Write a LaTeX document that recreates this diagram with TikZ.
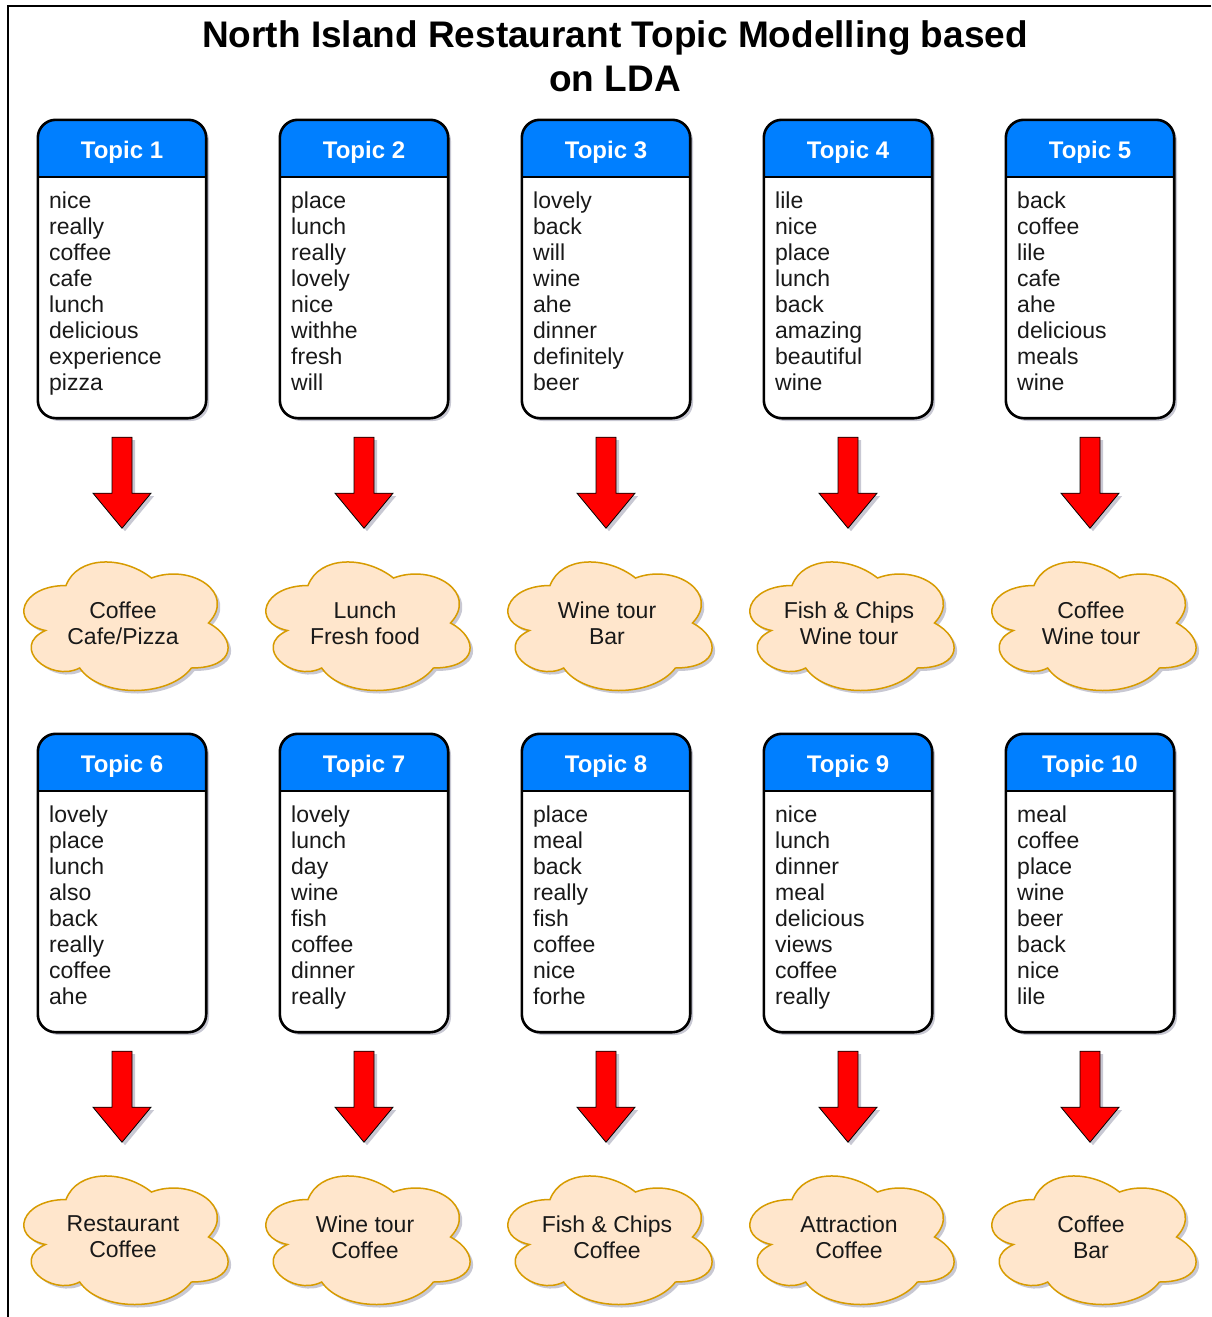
\documentclass[tikz,border=0pt]{standalone}
\usepackage{fontspec}
\setmainfont{Liberation Sans}
\usetikzlibrary{shadows}
\definecolor{hdrblue}{RGB}{0,127,255}
\definecolor{cloudfill}{RGB}{255,230,204}
\definecolor{cloudline}{RGB}{215,155,0}
\definecolor{shadowcol}{RGB}{100,100,130}
\tikzset{
  softshadow/.style={drop shadow={opacity=0.35, shadow xshift=3pt, shadow yshift=-3pt, fill=shadowcol}},
  tbox/.style={rectangle, rounded corners=18pt, minimum width=168pt, minimum height=298pt, fill=white, inner sep=0pt, softshadow},
  boxoutline/.style={draw=black, line width=2.6pt, rounded corners=18pt},
  hdrfill/.style={fill=hdrblue, rounded corners=18pt},
  hdrline/.style={draw=black, line width=2.6pt},
  hdrtext/.style={text=white, font=\fontsize{24}{28}\selectfont\bfseries, inner sep=0pt},
  word/.style={text=black!90, font=\fontsize{23}{26}\selectfont, inner sep=0pt},
  cloudsty/.style={fill=cloudfill, draw=cloudline, line width=1.5pt, softshadow},
  cloudtext/.style={text=black!90, font=\fontsize{23}{26}\selectfont, align=center, inner sep=0pt},
  redarrow/.style={fill=red, draw=black, line width=0.8pt, line join=miter, softshadow},
  titletext/.style={text=black, font=\fontsize{37}{44}\selectfont\bfseries, inner sep=0pt},
  framelines/.style={draw=black, line width=2pt}
}
\newcommand\mktopic[6]{%
  \node[tbox] (b#1) at (#2,#3+149) {};
  \begin{scope}
    \clip (#2-90,#3-6) rectangle (#2+90,#3+57);
    \path[hdrfill] (b#1.south west) rectangle (b#1.north east);
  \end{scope}
  \draw[hdrline] (b#1.west |- {(0,#3+57)}) -- (b#1.east |- {(0,#3+57)});
  \draw[boxoutline] (b#1.south west) rectangle (b#1.north east);
  \node[hdrtext, anchor=base] (t#1) at (#2,#3+38) {#4};
  \foreach \w [count=\i] in {#5} {
    \node[word, anchor=base west] (b#1w\i) at (#2-73,#3+88+26*\i-26) {\w};
  }
  \path[cloudsty, shift={(#2+1,#3+503)}] (-57,-37.5)
    .. controls (-102.6,-37.5) and (-114,0) .. (-77.52,7.5)
    .. controls (-114,24) and (-72.96,60) .. (-43.32,45)
    .. controls (-22.8,75) and (45.6,75) .. (68.4,45)
    .. controls (114,45) and (114,15) .. (85.5,0)
    .. controls (114,-30) and (68.4,-60) .. (28.5,-45)
    .. controls (0,-67.5) and (-45.6,-67.5) .. (-57,-37.5) -- cycle;
  \node[cloudtext] (c#1) at (#2+1,#3+503) {#6};
  \draw[redarrow] (b#1.south) ++(-10,19) -- ++(0,56) -- ++(-19,0) -- ++(29,35)
    -- ++(29,-35) -- ++(-19,0) -- ++(0,-56) -- cycle;
}
\begin{document}
\begin{tikzpicture}[x=1pt,y=-1pt]
  \useasboundingbox (0,0) rectangle (1211,1317);
  \fill[white] (0,0) rectangle (1211,1317);
  \draw[framelines] (1211,6) -- (8,6) -- (8,1317);
  \node[titletext, anchor=base] (title1) at (615,47) {North Island Restaurant Topic Modelling based};
  \node[titletext, anchor=base] (title2) at (615,91) {on LDA};
  \mktopic{1}{122}{120}{Topic 1}{nice,really,coffee,cafe,lunch,delicious,experience,pizza}{Coffee\\Cafe/Pizza}
  \mktopic{2}{364}{120}{Topic 2}{place,lunch,really,lovely,nice,withhe,fresh,will}{Lunch\\Fresh food}
  \mktopic{3}{606}{120}{Topic 3}{lovely,back,will,wine,ahe,dinner,definitely,beer}{Wine tour\\Bar}
  \mktopic{4}{848}{120}{Topic 4}{lile,nice,place,lunch,back,amazing,beautiful,wine}{Fish \& Chips\\Wine tour}
  \mktopic{5}{1090}{120}{Topic 5}{back,coffee,lile,cafe,ahe,delicious,meals,wine}{Coffee\\Wine tour}
  \mktopic{6}{122}{734}{Topic 6}{lovely,place,lunch,also,back,really,coffee,ahe}{Restaurant\\Coffee}
  \mktopic{7}{364}{734}{Topic 7}{lovely,lunch,day,wine,fish,coffee,dinner,really}{Wine tour\\Coffee}
  \mktopic{8}{606}{734}{Topic 8}{place,meal,back,really,fish,coffee,nice,forhe}{Fish \& Chips\\Coffee}
  \mktopic{9}{848}{734}{Topic 9}{nice,lunch,dinner,meal,delicious,views,coffee,really}{Attraction\\Coffee}
  \mktopic{10}{1090}{734}{Topic 10}{meal,coffee,place,wine,beer,back,nice,lile}{Coffee\\Bar}
\end{tikzpicture}
\end{document}
